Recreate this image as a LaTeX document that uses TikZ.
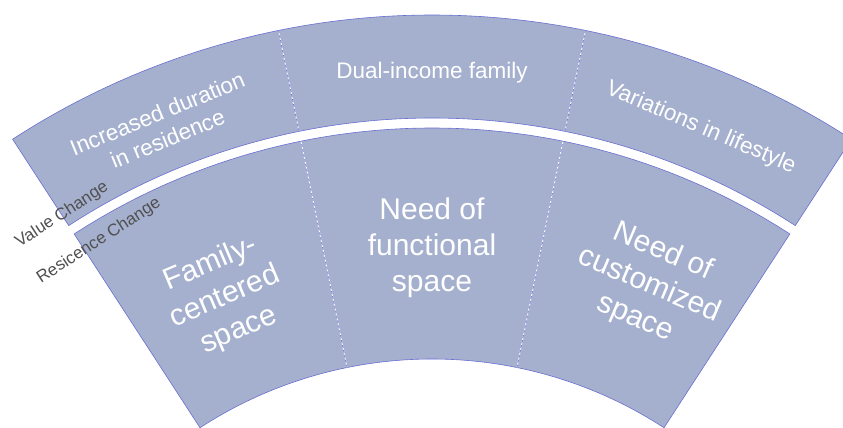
\documentclass[tikz,border=0pt]{standalone}
\usepackage{fontspec}
\setmainfont{Liberation Sans}
\definecolor{bandfill}{RGB}{165,176,206}
\definecolor{bandline}{RGB}{105,110,210}
\definecolor{sidetext}{RGB}{80,80,80}
\tikzset{
  band/.style={fill=bandfill, draw=bandline, line width=0.6pt},
  dividerbase/.style={draw=white, line width=0.9pt},
  divider/.style={draw=bandline, line width=0.7pt, dash pattern=on 3pt off 2pt},
  outlab/.style={text=white, font=\fontsize{22.5}{27}\selectfont, align=center, inner sep=0pt},
  inlab/.style={text=white, font=\fontsize{30}{36}\selectfont, align=center, inner sep=0pt},
  sidelab/.style={text=sidetext, font=\fontsize{17}{20}\selectfont, inner sep=0pt}
}
\begin{document}
\begin{tikzpicture}[x=1pt,y=1pt]
\useasboundingbox (0,0) rectangle (843,428);
\coordinate (C) at (432,-357);
% outer band
\path[band] ([shift={(57:770)}]C) arc[start angle=57,end angle=123,radius=770]
  -- ([shift={(123:667)}]C) arc[start angle=123,end angle=57,radius=667] -- cycle;
% inner band
\path[band] ([shift={(57:657)}]C) arc[start angle=57,end angle=123,radius=657]
  -- ([shift={(123:426)}]C) arc[start angle=123,end angle=57,radius=426] -- cycle;
% dividers
\foreach \a in {78.5,101.5}{
  \draw[dividerbase] ([shift={(\a:667)}]C) -- ([shift={(\a:770)}]C);
  \draw[divider] ([shift={(\a:667)}]C) -- ([shift={(\a:770)}]C);
  \draw[dividerbase] ([shift={(\a:426)}]C) -- ([shift={(\a:657)}]C);
  \draw[divider] ([shift={(\a:426)}]C) -- ([shift={(\a:657)}]C);
}
% outer labels
\node[outlab, rotate=22.25] (l1) at ([shift={(112.25:712)}]C) {Increased duration\\in residence};
\node[outlab] (l2) at ([shift={(90:712)}]C) {Dual-income family};
\node[outlab, rotate=-23] (l3) at ([shift={(67.75:710)}]C) {Variations in lifestyle};
% inner labels
\node[inlab, rotate=23] (m1) at ([shift={(113:530)}]C) {Family-\\centered\\space};
\node[inlab] (m2) at ([shift={(90:537)}]C) {Need of\\functional\\space};
\node[inlab, rotate=-23] (m3) at ([shift={(66.5:545)}]C) {Need of\\customized\\space};
% side labels
\node[sidelab, rotate=33] (v) at (62,213) {Value Change};
\node[sidelab, rotate=33] (r) at (99,187) {Resicence Change};
\end{tikzpicture}
\end{document}
